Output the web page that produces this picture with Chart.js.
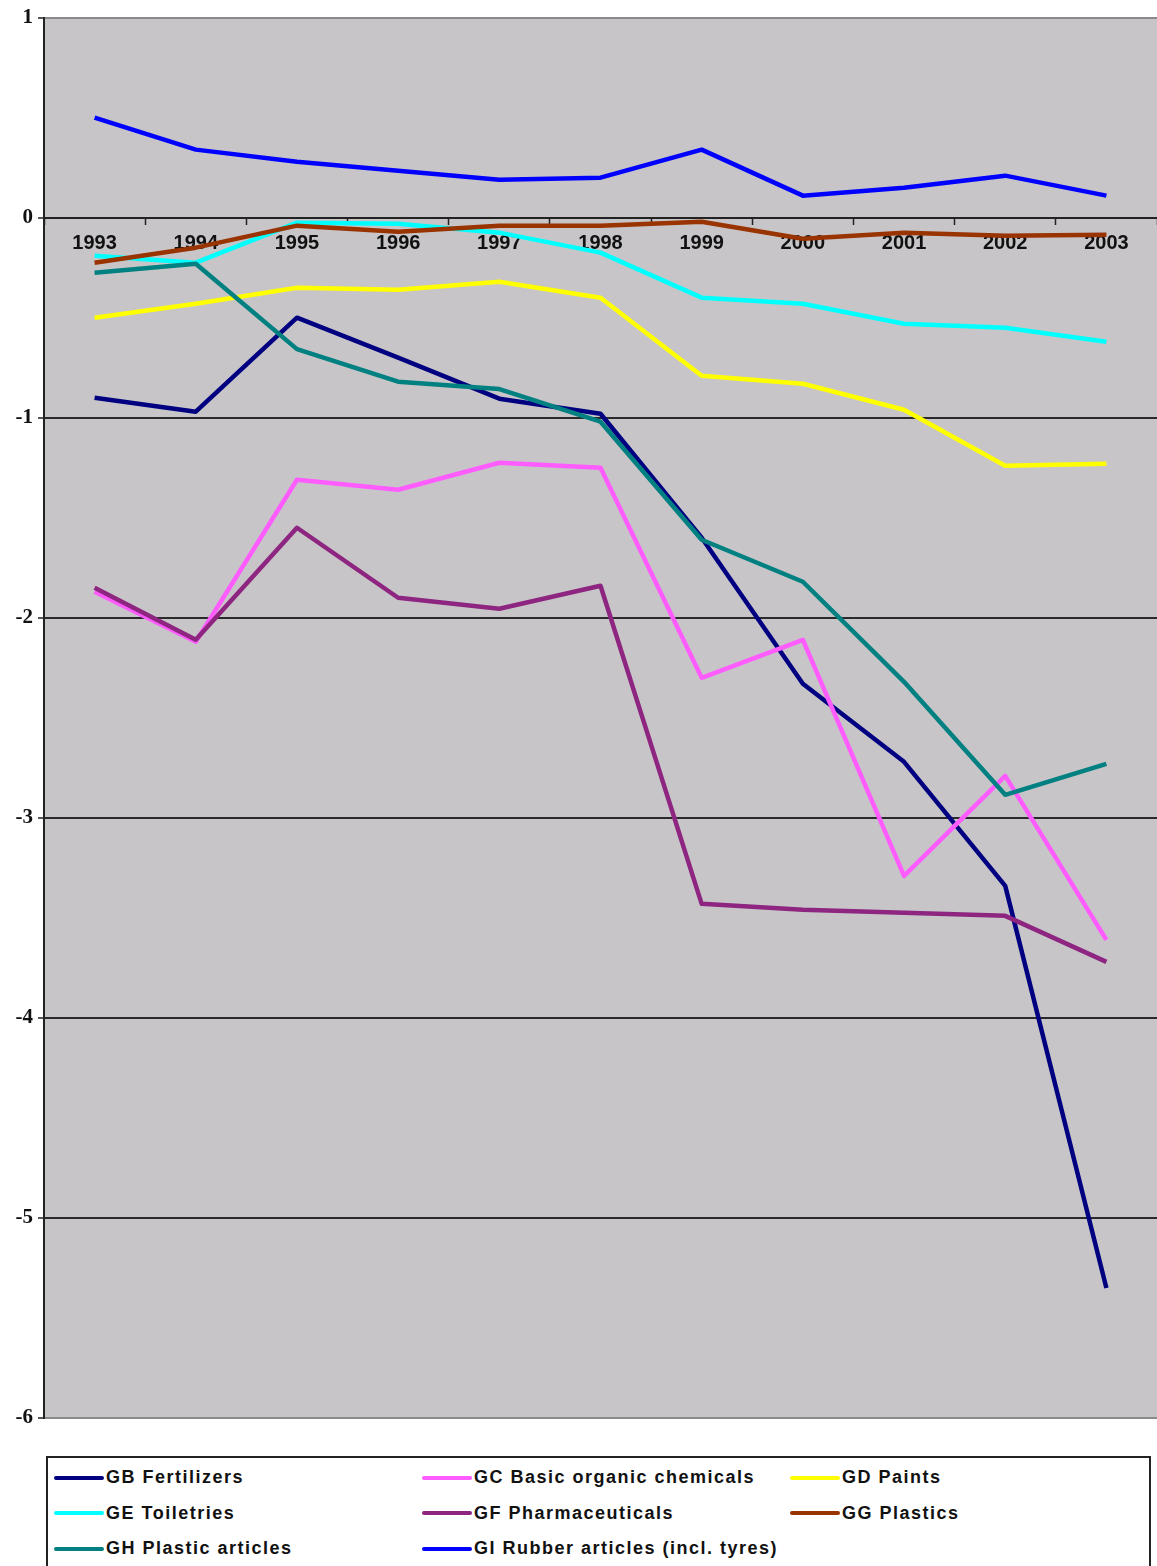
<!DOCTYPE html>
<html lang="en">

<head>
  <meta charset="UTF-8">
  <title>Chemical industry sectors 1993-2003</title>
  <script src="https://cdn.jsdelivr.net/npm/chart.js"></script>
  <style>
    body {
      margin: 0;
      width: 1157px;
      height: 1566px;
      overflow: hidden;
      background: #fff;
      position: relative;
      font-family: "Liberation Sans", Arial, sans-serif;
    }

    #legendBox {
      position: absolute;
      left: 46px;
      top: 1456px;
      width: 1105px;
      height: 130px;
      border: 2px solid #222;
      box-sizing: border-box;
      display: grid;
      grid-template-columns: 368px 368px 368px;
      grid-auto-rows: 35.5px;
      padding: 2px 0 0 6px;
    }

    .item {
      display: flex;
      align-items: center;
      font-weight: bold;
      font-size: 18px;
      letter-spacing: 1.5px;
      color: #111;
      white-space: nowrap;
    }

    .item span.swatch {
      display: inline-block;
      width: 50px;
      height: 4px;
      border-radius: 2px;
      margin-right: 2px;
    }
  </style>
</head>

<body>
  <canvas id="sectorChart" width="1157" height="1440"></canvas>
  <div id="legendBox"></div>
  <script>
    const years = ['1993', '1994', '1995', '1996', '1997', '1998', '1999', '2000', '2001', '2002', '2003'];

    // values
    const gbFertilizers = [-0.90, -0.97, -0.50, -0.70, -0.905, -0.98, -1.60, -2.33, -2.72, -3.34, -5.35];
    const gcBasicOrganic = [-1.87, -2.12, -1.31, -1.36, -1.225, -1.25, -2.30, -2.11, -3.29, -2.79, -3.61];
    const gdPaints = [-0.50, -0.43, -0.35, -0.36, -0.32, -0.40, -0.79, -0.83, -0.96, -1.24, -1.23];
    const geToiletries = [-0.19, -0.225, -0.025, -0.03, -0.075, -0.175, -0.40, -0.43, -0.53, -0.55, -0.62];
    const gfPharma = [-1.85, -2.11, -1.55, -1.90, -1.955, -1.84, -3.43, -3.46, -3.475, -3.49, -3.72];
    const ggPlastics = [-0.225, -0.15, -0.04, -0.07, -0.04, -0.04, -0.02, -0.105, -0.075, -0.09, -0.085];
    const ghPlasticArticles = [-0.275, -0.23, -0.657, -0.82, -0.857, -1.02, -1.61, -1.82, -2.32, -2.885, -2.73];
    const giRubber = [0.50, 0.34, 0.28, 0.235, 0.19, 0.20, 0.34, 0.11, 0.15, 0.21, 0.11];

    const seriesLabels = [
      'GB Fertilizers', 'GC Basic organic chemicals', 'GD Paints',
      'GE Toiletries', 'GF Pharmaceuticals', 'GG Plastics',
      'GH Plastic articles', 'GI Rubber articles (incl. tyres)'
    ];
    const seriesValues = [gbFertilizers, gcBasicOrganic, gdPaints, geToiletries, gfPharma, ggPlastics, ghPlasticArticles, giRubber];
    const seriesColors = ['#000080', '#FF5CFF', '#FFFF00', '#00FFFF', '#8E2580', '#993300', '#008080', '#0000FF'];

    const yTicks = [1, 0, -1, -2, -3, -4, -5, -6];

    const fontFamily = '"Liberation Sans", Arial, sans-serif';

    // grey plot area like the old Excel charts
    const plotBackground = {
      id: 'plotBackground',
      beforeDraw(chart) {
        const { ctx, chartArea } = chart;
        ctx.save();
        ctx.fillStyle = '#C7C5C8';
        ctx.fillRect(chartArea.left, chartArea.top, chartArea.right - chartArea.left, chartArea.bottom - chartArea.top);
        ctx.restore();
      }
    };

    const datasets = seriesValues.map((vals, i) => ({
      label: seriesLabels[i],
      data: vals,
      borderColor: seriesColors[i],
      backgroundColor: seriesColors[i],
      borderWidth: 4.5,
      pointRadius: 0,
      tension: 0,
      fill: false,
      borderJoinStyle: 'round',
      order: seriesValues.length - i, // later series on top
    }));

    const ctx = document.getElementById('sectorChart').getContext('2d');

    new Chart(ctx, {
      type: 'line',
      data: { labels: years, datasets: datasets },
      plugins: [plotBackground],
      options: {
        responsive: false,
        maintainAspectRatio: false,
        animation: false,
        layout: { padding: { top: 13, bottom: 22, right: 0, left: 0 } },
        plugins: {
          legend: { display: false },
          tooltip: { enabled: false },
        },
        scales: {
          x: {
            position: { y: 0 },
            offset: true,
            grid: {
              offset: true,
              drawOnChartArea: false,
              drawTicks: true,
              tickLength: 6,
              tickColor: '#222',
              tickWidth: 1.5,
            },
            border: { display: true, color: '#222', width: 2 },
            ticks: {
              color: '#111',
              padding: 8,
              maxRotation: 0,
              autoSkip: false,
              font: { family: fontFamily, size: 20, weight: 'bold' },
            },
          },
          y: {
            min: -6,
            max: 1,
            afterFit(scale) { scale.width = 44; },
            afterBuildTicks(scale) { scale.ticks = yTicks.map(v => ({ value: v })); },
            grid: {
              color: (c) => (c.tick && (c.tick.value === 1 || c.tick.value === -6)) ? '#8a8a8a' : '#2a2a2a',
              lineWidth: (c) => (c.tick && c.tick.value === 0) ? 0 : 2,
              tickColor: '#222',
              tickLength: 6,
              tickWidth: 1.5,
            },
            border: { display: true, color: '#222', width: 2 },
            ticks: {
              color: '#111',
              padding: 5,
              font: { family: '"Liberation Serif", "Times New Roman", serif', size: 21, weight: 'bold' },
              callback: (v) => String(v),
            },
          },
        },
      },
    });

    // legend in three columns, built from the datasets
    const legendBox = document.getElementById('legendBox');
    datasets.forEach((ds) => {
      const item = document.createElement('div');
      item.className = 'item';
      const swatch = document.createElement('span');
      swatch.className = 'swatch';
      swatch.style.background = ds.borderColor;
      item.appendChild(swatch);
      item.appendChild(document.createTextNode(ds.label));
      legendBox.appendChild(item);
    });
  </script>
</body>

</html>
